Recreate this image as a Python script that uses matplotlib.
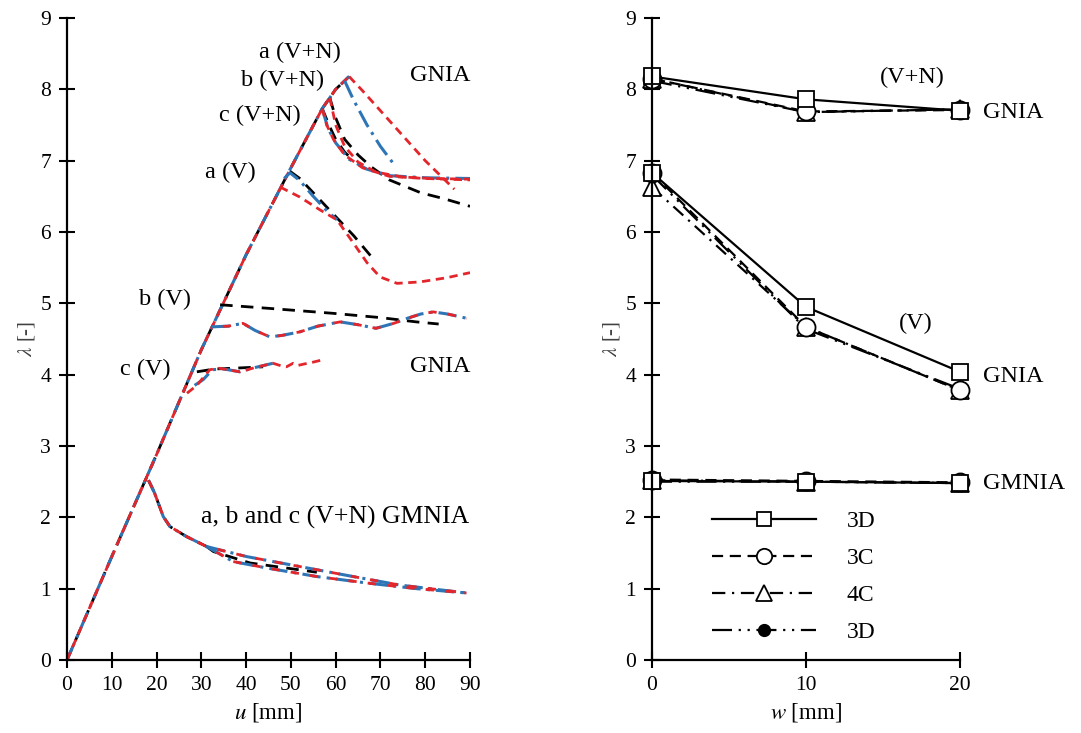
import matplotlib
matplotlib.use("Agg")
import matplotlib.pyplot as plt
from matplotlib.legend_handler import HandlerLine2D
import numpy as np

plt.rcParams['font.family'] = ['Liberation Serif', 'DejaVu Serif']
plt.rcParams['mathtext.fontset'] = 'stix'

# ---------------- Left panel data (u [mm], lambda) ----------------
# common elastic rising branch
u_rise = [0, 10, 20, 30, 40, 50, 57, 60, 63]
lam_rise = [0, 1.45, 2.88, 4.35, 5.68, 6.9, 7.73, 8.0, 8.18]

# a (V+N) GNIA
u_aVN_red = [63, 66, 70, 75, 80, 86.5]
lam_aVN_red = [8.18, 7.98, 7.7, 7.35, 7.0, 6.6]
u_aVN_blue = [62, 64, 67, 70, 73]
lam_aVN_blue = [8.12, 7.85, 7.5, 7.2, 6.95]
# b (V+N) GNIA
u_bVN_black = [58.7, 60, 62, 65, 68, 72, 79, 84, 90]
lam_bVN_black = [7.88, 7.6, 7.3, 7.08, 6.91, 6.73, 6.55, 6.47, 6.36]
u_bVN_red = [58.7, 60, 62, 65, 69, 75, 82, 90]
lam_bVN_red = [7.88, 7.5, 7.2, 6.98, 6.84, 6.77, 6.75, 6.74]
# c (V+N) GNIA
u_cVN_red = [57, 58, 59.5, 62, 66, 72, 80, 90]
lam_cVN_red = [7.73, 7.5, 7.3, 7.08, 6.9, 6.78, 6.75, 6.73]
u_cVN_blue = [57, 58.3, 60, 63, 67, 72, 80, 90]
lam_cVN_blue = [7.73, 7.45, 7.25, 7.02, 6.88, 6.79, 6.76, 6.75]
u_cVN_black = [57, 58.5, 60, 62, 64]
lam_cVN_black = [7.73, 7.5, 7.3, 7.12, 7.0]

# a (V) GNIA
u_aV_black = [49.8, 52, 55, 58, 61, 64, 68.3]
lam_aV_black = [6.85, 6.75, 6.55, 6.35, 6.15, 5.95, 5.63]
u_aV_blue = [48.5, 49.8, 52, 55, 58, 60.3]
lam_aV_blue = [6.75, 6.83, 6.72, 6.5, 6.3, 6.17]
u_aV_red = [47.6, 52, 56.5, 60.3, 63.9, 67, 69.9, 73.7, 78.8, 84.9, 90]
lam_aV_red = [6.63, 6.49, 6.31, 6.17, 5.85, 5.57, 5.37, 5.28, 5.3, 5.36, 5.43]

# b (V) GNIA
u_bV_black = [34.2, 45, 59.4, 70, 78, 83]
lam_bV_black = [4.98, 4.93, 4.86, 4.8, 4.74, 4.71]
u_bV_col = [32.3, 36, 39.3, 42, 45.3, 48, 52, 56, 61, 65, 69, 73, 76, 79, 81.8, 85, 89.3]
lam_bV_col = [4.67, 4.68, 4.72, 4.62, 4.53, 4.55, 4.6, 4.68, 4.74, 4.7, 4.65, 4.72, 4.79, 4.85, 4.88, 4.85, 4.79]

# c (V) GNIA
u_cV_black = [29, 33, 37.1, 43.8]
lam_cV_black = [4.04, 4.08, 4.09, 4.11]
u_cV_blue = [28.5, 30.4, 32.5, 35, 38.6, 42, 46]
lam_cV_blue = [3.85, 3.93, 4.07, 4.08, 4.04, 4.1, 4.16]
u_cV_red = [26.8, 29, 31.9, 34, 38.6, 42, 46, 48, 49, 50.5, 51.6, 53, 54.6, 57.2]
lam_cV_red = [3.74, 3.85, 4.07, 4.09, 4.04, 4.1, 4.16, 4.12, 4.11, 4.16, 4.13, 4.15, 4.17, 4.21]

# a, b, c (V+N) GMNIA
u_gm_peak = [18.2, 19.5, 21.5, 23, 26.7, 31.2]
lam_gm_peak = [2.52, 2.35, 2.01, 1.87, 1.73, 1.59]
u_gm_up = [31.2, 40.1, 52, 63.9, 74.4, 89.2]
lam_gm_up = [1.59, 1.45, 1.31, 1.17, 1.05, 0.94]
u_gm_low = [31.2, 37.1, 44.6, 55.8, 66.9, 78.1, 89.2]
lam_gm_low = [1.59, 1.38, 1.29, 1.17, 1.08, 1.0, 0.94]
u_gm_black = [31.2, 32.7, 40.9, 55.8]
lam_gm_black = [1.59, 1.52, 1.36, 1.23]

# ---------------- Right panel data (w [mm], lambda) ----------------
w = [0, 10, 20]
VN_3D = [8.18, 7.86, 7.7]
VN_3C = [8.15, 7.69, 7.71]
VN_4C = [8.15, 7.68, 7.72]
VN_3Df = [8.12, 7.68, 7.72]
V_3D = [6.83, 4.95, 4.04]
V_3C = [6.83, 4.67, 3.78]
V_4C = [6.63, 4.67, 3.78]
V_3Df = [6.8, 4.64, 3.8]
GM_3D = [2.51, 2.5, 2.48]
GM_3C = [2.53, 2.51, 2.49]
GM_4C = [2.52, 2.5, 2.48]
GM_3Df = [2.5, 2.5, 2.48]
legend_labels = ['3D', '3C', '4C', '3D']

# ---------------- styles ----------------
BLUE = '#2E75B6'
RED = '#E3262B'
sty = {
    'k': dict(color='black', lw=2.0, ls=(0, (4.5, 3))),
    'b': dict(color=BLUE, lw=2.2, ls=(0, (6, 2, 1, 2))),
    'r': dict(color=RED, lw=2.0, ls=(0, (3, 2))),
}

fig = plt.figure(figsize=(10.81, 7.33), dpi=100)
axL = fig.add_axes([67/1081, 73/733, (470-67)/1081, (660-18)/733])
axR = fig.add_axes([652/1081, 73/733, (960-652)/1081, (660-18)/733])


def seg(ax, u, lam, c):
    ax.plot(u, lam, **sty[c])


def rise_to(ax, umax, c):
    ur = np.array(u_rise, dtype=float)
    lr = np.array(lam_rise, dtype=float)
    m = ur < umax
    uu = list(ur[m]) + [umax]
    ll = list(lr[m]) + [float(np.interp(umax, ur, lr))]
    ax.plot(uu, ll, **sty[c])


# rising branches
for c in ['k', 'b', 'r']:
    rise_to(axL, 63, c)

# post-peak curves, black first
seg(axL, u_bVN_black, lam_bVN_black, 'k')
seg(axL, u_cVN_black, lam_cVN_black, 'k')
seg(axL, u_aV_black, lam_aV_black, 'k')
seg(axL, u_bV_black, lam_bV_black, 'k')
seg(axL, u_cV_black, lam_cV_black, 'k')
seg(axL, u_gm_peak, lam_gm_peak, 'k')
seg(axL, u_gm_black, lam_gm_black, 'k')

seg(axL, u_aVN_blue, lam_aVN_blue, 'b')
seg(axL, u_cVN_blue, lam_cVN_blue, 'b')
seg(axL, u_aV_blue, lam_aV_blue, 'b')
seg(axL, u_bV_col, lam_bV_col, 'b')
seg(axL, u_cV_blue, lam_cV_blue, 'b')
seg(axL, u_gm_peak, lam_gm_peak, 'b')
seg(axL, u_gm_up, lam_gm_up, 'b')
seg(axL, u_gm_low, lam_gm_low, 'b')

seg(axL, u_aVN_red, lam_aVN_red, 'r')
seg(axL, u_bVN_red, lam_bVN_red, 'r')
seg(axL, u_cVN_red, lam_cVN_red, 'r')
seg(axL, u_aV_red, lam_aV_red, 'r')
axL.plot(u_bV_col, lam_bV_col, color=RED, lw=2.0, ls=(3, (3, 4)))
seg(axL, u_cV_red, lam_cV_red, 'r')
seg(axL, u_gm_peak, lam_gm_peak, 'r')
axL.plot(u_gm_up, lam_gm_up, color=RED, lw=2.0, ls=(3, (3, 4)))
axL.plot(u_gm_low, lam_gm_low, color=RED, lw=2.0, ls=(3, (3, 4)))

FS_T = 17.5
axL.text(52, 8.52, 'a (V+N)', fontsize=FS_T, ha='center', va='center')
axL.text(48.2, 8.12, 'b (V+N)', fontsize=FS_T, ha='center', va='center')
axL.text(43.1, 7.64, 'c (V+N)', fontsize=FS_T, ha='center', va='center')
axL.text(83.3, 8.2, 'GNIA', fontsize=FS_T, ha='center', va='center')
axL.text(36.4, 6.84, 'a (V)', fontsize=FS_T, ha='center', va='center')
axL.text(21.9, 5.05, 'b (V)', fontsize=FS_T, ha='center', va='center')
axL.text(17.4, 4.07, 'c (V)', fontsize=FS_T, ha='center', va='center')
axL.text(83.3, 4.12, 'GNIA', fontsize=FS_T, ha='center', va='center')
axL.text(89.8, 2.0, 'a, b and c (V+N) GMNIA', fontsize=18.5, ha='right', va='center')

# ---------------- right panel ----------------
st3D = dict(color='black', lw=1.6, ls='-', marker='s', ms=12, mfc='white', mec='black', mew=1.3)
st3C = dict(color='black', lw=1.6, ls=(0, (5, 3)), marker='o', ms=13, mfc='white', mec='black', mew=1.3)
st4C = dict(color='black', lw=1.6, ls=(0, (6, 3, 1, 3)), marker='^', ms=13, mfc='white', mec='black', mew=1.3)
st3Df = dict(color='black', lw=1.6, ls=(0, (9, 3, 1, 3, 1, 3)), marker='o', ms=10, mfc='black', mec='black')

for arr3D, arr3C, arr4C, arr3Df in [(VN_3D, VN_3C, VN_4C, VN_3Df), (V_3D, V_3C, V_4C, V_3Df), (GM_3D, GM_3C, GM_4C, GM_3Df)]:
    axR.plot(w, arr3Df, **st3Df)
    axR.plot(w, arr4C, **st4C)
    axR.plot(w, arr3C, **st3C)
    axR.plot(w, arr3D, **st3D)

handles = []
for s in (st3D, st3C, st4C, st3Df):
    h = plt.Line2D([], [], **s)
    h.set_markersize(s['ms'] * 0.85)
    handles.append(h)
axR.legend(handles, legend_labels, loc='upper left', bbox_to_anchor=(0.195, 0.233),
           frameon=False, fontsize=17, handlelength=4.4, handletextpad=1.3,
           labelspacing=0.66, borderpad=0, borderaxespad=0,
           handler_map={plt.Line2D: HandlerLine2D(numpoints=1)})

axR.text(16.9, 8.16, '(V+N)', fontsize=FS_T, ha='center', va='center')
axR.text(21.5, 7.68, 'GNIA', fontsize=FS_T, ha='left', va='center')
axR.text(17.1, 4.72, '(V)', fontsize=FS_T, ha='center', va='center')
axR.text(21.5, 3.97, 'GNIA', fontsize=FS_T, ha='left', va='center')
axR.text(21.5, 2.47, 'GMNIA', fontsize=FS_T, ha='left', va='center')

# ---------------- axes formatting ----------------
for ax in (axL, axR):
    ax.set_ylim(0, 9)
    ax.set_yticks(range(0, 10))
    for s in ('top', 'right'):
        ax.spines[s].set_visible(False)
    for s in ('left', 'bottom'):
        ax.spines[s].set_linewidth(1.6)
    ax.tick_params(direction='inout', length=11, width=1.5, labelsize=15.5, pad=6)
    ax.set_ylabel(r'$\lambda$ [-]', fontsize=15, color='#404040', labelpad=2)

axL.set_xlim(0, 90)
axL.set_xticks(range(0, 91, 10))
axL.set_xlabel(r'$u$ [mm]', fontsize=16.5, labelpad=4)
axR.set_xlim(0, 20)
axR.set_xticks([0, 10, 20])
axR.set_xlabel(r'$w$ [mm]', fontsize=16.5, labelpad=4)
for line in axR.get_lines():
    line.set_clip_on(False)

fig.savefig('out.png', dpi=100)
